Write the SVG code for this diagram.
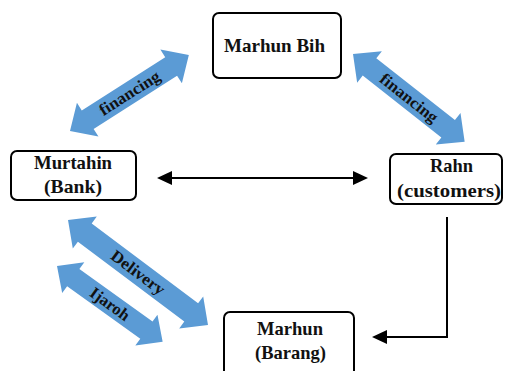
<svg xmlns="http://www.w3.org/2000/svg" width="505" height="371" viewBox="0 0 505 371">
  <style>
    .box { fill: #ffffff; stroke: #000000; stroke-width: 2; }
    .nt { font-family: "Liberation Serif", "Times New Roman", serif; font-weight: bold; font-size: 19px; fill: #111111; text-anchor: middle; }
    .lt { font-family: "Liberation Serif", "Times New Roman", serif; font-weight: bold; font-size: 16.5px; fill: #111111; text-anchor: middle; }
    .blk { fill: none; stroke: #000000; stroke-width: 2; }
    .blue { fill: #5B9BD5; }
  </style>
  <defs>
    <marker id="ah" markerUnits="userSpaceOnUse" markerWidth="15" markerHeight="14" refX="12" refY="7" orient="auto-start-reverse">
      <path d="M0,0 L15,7 L0,14 Z" fill="#000000"/>
    </marker>
  </defs>

  <g id="connectors">
    <line class="blk" x1="160" y1="178" x2="365" y2="178" marker-start="url(#ah)" marker-end="url(#ah)"/>
    <path class="blk" d="M447,217 V337 H375" stroke-width="2.5" marker-end="url(#ah)"/>

    <g id="arrow-financing-left" transform="translate(70,131) rotate(-32.56)">
      <polygon class="blue" points="0,0 21,-20 21,-11 120,-11 120,-20 141,0 120,20 120,11 21,11 21,20"/>
    </g>
    <g transform="translate(129.5,93) rotate(-32.56)">
      <text class="lt" x="0" y="5.5" textLength="69" lengthAdjust="spacingAndGlyphs">financing</text>
    </g>

    <g id="arrow-financing-right" transform="translate(353,54) rotate(38.16)">
      <polygon class="blue" points="0,0 21,-20 21,-11 121,-11 121,-20 142,0 121,20 121,11 21,11 21,20"/>
    </g>
    <g transform="translate(409,98) rotate(38.16)">
      <text class="lt" x="0" y="5.5" textLength="69" lengthAdjust="spacingAndGlyphs">financing</text>
    </g>

    <g id="arrow-delivery" transform="translate(68,220) rotate(36.87)">
      <polygon class="blue" points="0,0 21,-20 21,-11.5 154,-11.5 154,-20 175,0 154,20 154,11.5 21,11.5 21,20"/>
    </g>
    <g transform="translate(138,272.5) rotate(36.87)">
      <text class="lt" x="0" y="5.5" textLength="63" lengthAdjust="spacingAndGlyphs">Delivery</text>
    </g>

    <g id="arrow-ijaroh" transform="translate(57,266) rotate(35.64)">
      <polygon class="blue" points="0,0 20,-19 20,-10.5 110,-10.5 110,-19 130,0 110,19 110,10.5 20,10.5 20,19"/>
    </g>
    <g transform="translate(110,304) rotate(35.64)">
      <text class="lt" x="0" y="5.5" textLength="45" lengthAdjust="spacingAndGlyphs">Ijaroh</text>
    </g>
  </g>

  <g id="node-marhun-bih">
    <rect class="box" x="213" y="13" width="128" height="65" rx="6"/>
    <text class="nt" x="274.5" y="52" textLength="101" lengthAdjust="spacingAndGlyphs">Marhun Bih</text>
  </g>

  <g id="node-murtahin">
    <rect class="box" x="11" y="151" width="125" height="49" rx="6"/>
    <text class="nt" x="73" y="169" textLength="78" lengthAdjust="spacingAndGlyphs">Murtahin</text>
    <text class="nt" x="73" y="193" textLength="58" lengthAdjust="spacingAndGlyphs">(Bank)</text>
  </g>

  <g id="node-rahn">
    <rect class="box" x="390" y="154" width="112" height="50" rx="6"/>
    <text class="nt" x="451.5" y="172" textLength="43" lengthAdjust="spacingAndGlyphs">Rahn</text>
    <text class="nt" x="449" y="197" textLength="104" lengthAdjust="spacingAndGlyphs">(customers)</text>
  </g>

  <g id="node-marhun-barang">
    <rect class="box" x="224" y="312" width="130" height="65" rx="6"/>
    <text class="nt" x="290" y="335" textLength="66" lengthAdjust="spacingAndGlyphs">Marhun</text>
    <text class="nt" x="290.5" y="359" textLength="71" lengthAdjust="spacingAndGlyphs">(Barang)</text>
  </g>
</svg>
